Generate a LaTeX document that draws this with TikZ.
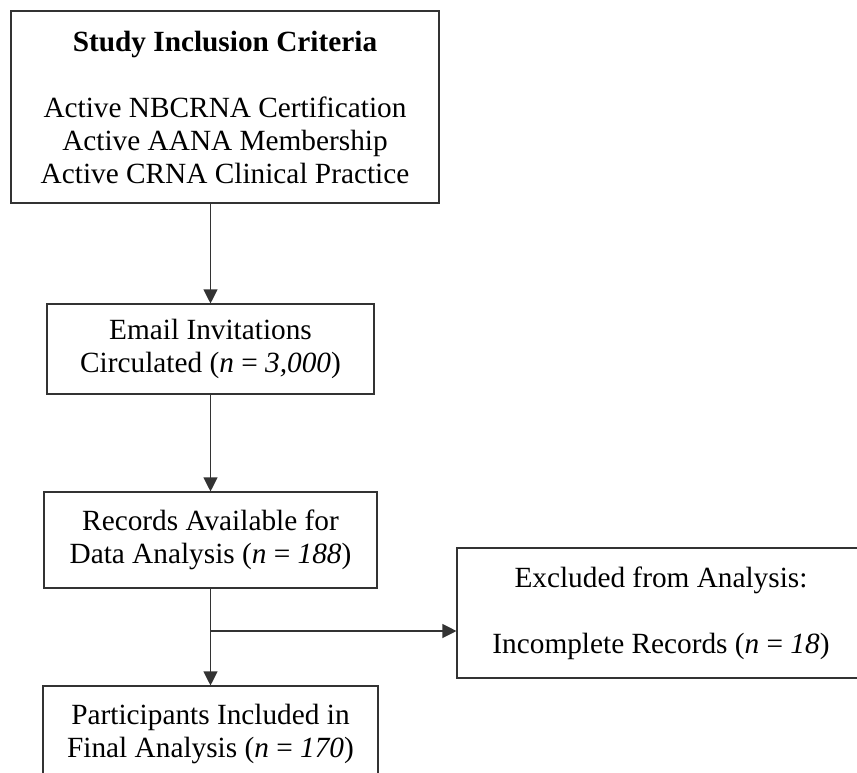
\documentclass[tikz,border=0pt]{standalone}
\usepackage{fontspec}
\setmainfont{Liberation Serif}
\usetikzlibrary{arrows.meta}
\begin{document}
\begin{tikzpicture}[x=1pt,y=-1pt,
  box/.style={draw=black!80, line width=1.1pt, align=center, inner sep=0pt,
    font=\fontsize{29.3}{33}\selectfont},
  arr/.style={draw=black!80, line width=1.1pt, -{Triangle[width=14pt,length=14pt]}}]
\useasboundingbox (0,0) rectangle (857,772);
\clip (0,0) rectangle (857,772);
\node[box, minimum width=428pt, minimum height=192pt] (crit) at (225,107)
  {\textbf{Study Inclusion Criteria}\\[33pt]Active NBCRNA Certification\\Active AANA Membership\\Active CRNA Clinical Practice};
\node[box, minimum width=327pt, minimum height=90pt] (email) at (210.5,349)
  {Email Invitations\\Circulated (\textit{n} = \textit{3,000})};
\node[box, minimum width=333pt, minimum height=96pt] (records) at (210.5,540)
  {Records Available for\\Data Analysis (\textit{n} = \textit{188})};
\node[box, minimum width=408pt, minimum height=130pt] (excl) at (661,613)
  {Excluded from Analysis:\\[33pt]Incomplete Records (\textit{n} = \textit{18})};
\node[box, minimum width=335pt, minimum height=96pt] (final) at (210.5,734)
  {Participants Included in\\Final Analysis (\textit{n} = \textit{170})};
\coordinate (branch) at (records.south |- 0,631);
\draw[arr] (email.north |- crit.south) -- (email.north);
\draw[arr] (email.south) -- (records.north);
\draw[arr] (records.south) -- (final.north);
\draw[arr] (branch) -- (branch -| excl.west);
\end{tikzpicture}
\end{document}
